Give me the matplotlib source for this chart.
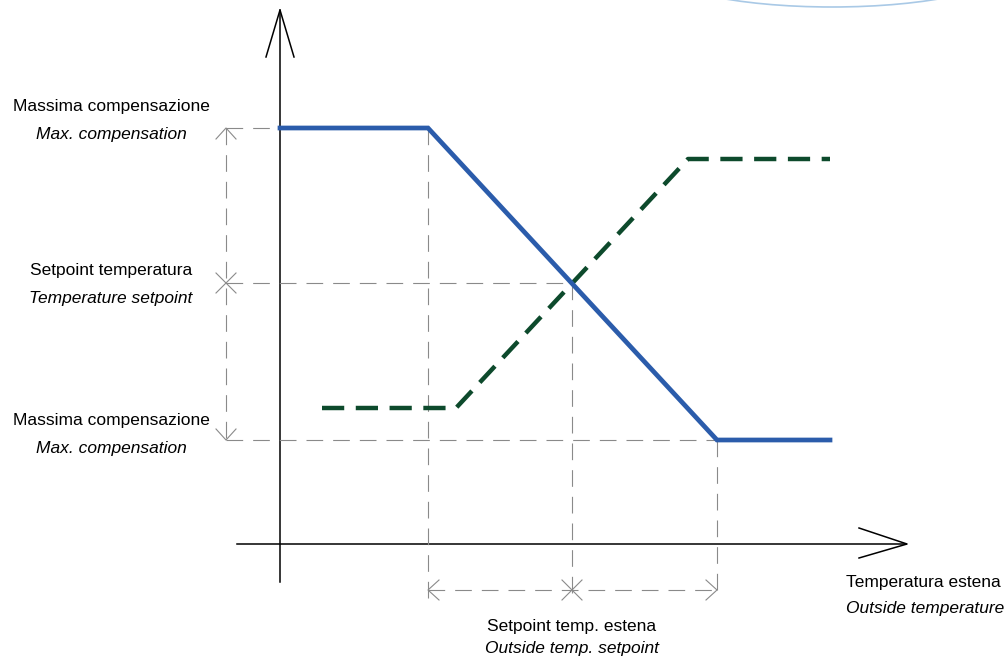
import matplotlib.pyplot as plt
from matplotlib.patches import Arc

# schematic values (diagram units, y grows downwards like the drawing)
blue_x = [280, 428, 717, 830]
blue_y = [128, 128, 440, 440]
green_x = [322, 456, 688, 830]
green_y = [408, 408, 159, 159]

origin_x, origin_y = 280, 544
max_comp_hi, setpoint_y, max_comp_lo = 128, 283, 440
ext_lo, ext_set, ext_hi = 428, 572, 717
dim_x, dim_y = 226, 590

left_labels = [("Massima compensazione", "Max. compensation", 107),
               ("Setpoint temperatura", "Temperature setpoint", 270),
               ("Massima compensazione", "Max. compensation", 420)]

plt.rcParams['font.family'] = ['Liberation Sans', 'DejaVu Sans']

fig = plt.figure(figsize=(10.08, 6.63), dpi=100)
ax = fig.add_axes([0, 0, 1, 1])
ax.set_xlim(0, 1008)
ax.set_ylim(663, 0)
ax.axis('off')

grey = '#8a8a8a'
dash = dict(color=grey, lw=0.8, dashes=(15, 9))
thin = dict(color=grey, lw=0.8)

# faint arc top right
ax.add_patch(Arc((832, -33), 354, 80, theta1=0, theta2=180, color='#a9c9e6', lw=1.2))

# axes with open arrow heads
ax.plot([origin_x, origin_x], [582, 10], color='black', lw=1.1)
ax.plot([266, 280, 294], [57, 10, 57], color='black', lw=1.1)
ax.plot([237, 906], [origin_y, origin_y], color='black', lw=1.1)
ax.plot([859, 907, 859], [528, origin_y, 558], color='black', lw=1.1)

# guide lines
for yy, xe in [(max_comp_hi, ext_lo), (setpoint_y, ext_set), (max_comp_lo, ext_hi)]:
    ax.plot([dim_x, xe], [yy, yy], **dash)
for xx, ys in [(ext_lo, max_comp_hi), (ext_set, setpoint_y), (ext_hi, max_comp_lo)]:
    ax.plot([xx, xx], [ys, 600], **dash)

# vertical dimension line
ax.plot([dim_x, dim_x], [max_comp_hi, max_comp_lo], **dash)
ax.plot([dim_x - 10, dim_x, dim_x + 10], [max_comp_hi + 11, max_comp_hi, max_comp_hi + 11], **thin)
ax.plot([dim_x - 10, dim_x, dim_x + 10], [max_comp_lo - 11, max_comp_lo, max_comp_lo - 11], **thin)
ax.plot([dim_x - 10, dim_x + 10], [setpoint_y - 10, setpoint_y + 10], **thin)
ax.plot([dim_x - 10, dim_x + 10], [setpoint_y + 10, setpoint_y - 10], **thin)

# horizontal dimension line
ax.plot([ext_lo, ext_hi], [dim_y, dim_y], **dash)
ax.plot([ext_lo + 11, ext_lo, ext_lo + 11], [dim_y - 10, dim_y, dim_y + 10], **thin)
ax.plot([ext_hi - 11, ext_hi, ext_hi - 11], [dim_y - 10, dim_y, dim_y + 10], **thin)
ax.plot([ext_set - 10, ext_set + 10], [dim_y - 10, dim_y + 10], **thin)
ax.plot([ext_set - 10, ext_set + 10], [dim_y + 10, dim_y - 10], **thin)

# curves
ax.plot(green_x, green_y, color='#0d4a2c', lw=3.2, dashes=(5, 2.6), solid_joinstyle='miter')
ax.plot(blue_x, blue_y, color='#2b5cab', lw=3.4, solid_joinstyle='miter')

fs = 12.5
for it, en, yy in left_labels:
    ax.text(111, yy, it, fontsize=fs, ha='center', va='center')
    ax.text(111, yy + 28, en, fontsize=fs, ha='center', va='center', style='italic')

ax.text(ext_set, 626, "Setpoint temp. estena", fontsize=fs, ha='center', va='center')
ax.text(ext_set, 649, "Outside temp. setpoint", fontsize=fs, ha='center', va='center', style='italic')
ax.text(846, 583, "Temperatura estena", fontsize=fs, ha='left', va='center')
ax.text(846, 608, "Outside temperature", fontsize=fs, ha='left', va='center', style='italic')

fig.savefig('out.png', dpi=100)
